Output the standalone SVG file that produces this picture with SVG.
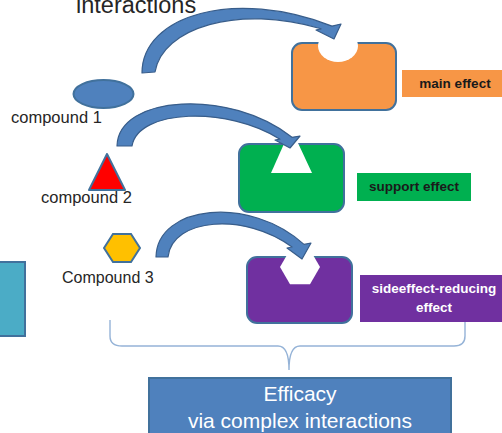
<svg xmlns="http://www.w3.org/2000/svg" width="502" height="433" viewBox="0 0 502 433">
  <style>
    .lbl { font-family: "Liberation Sans", Arial, sans-serif; fill: #262626; }
    .tag { font-family: "Liberation Sans", Arial, sans-serif; font-weight: bold; font-size: 13.5px; text-anchor: middle; }
    .shape { stroke: #41719C; stroke-width: 2; }
    .arrow { fill: #4F81BD; stroke: #385D8A; stroke-width: 1.2; stroke-linejoin: round; }
    .hole { fill: #FFFFFF; stroke: none; }
    .brace { fill: none; stroke: #95B3D7; stroke-width: 1.4; }
  </style>

  <rect width="502" height="433" fill="#FFFFFF"/>

  <!-- heading fragment -->
  <text class="lbl" x="76" y="13" font-size="23.5">interactions</text>

  <!-- compound shapes -->
  <g id="compound1">
    <ellipse class="shape" cx="103.5" cy="94" rx="30" ry="14" fill="#4F81BD"/>
    <text class="lbl" x="11" y="123" font-size="16.5">compound 1</text>
  </g>
  <g id="compound2">
    <polygon class="shape" points="107,154 89,190 125,190" fill="#FF0000" stroke-linejoin="round"/>
    <text class="lbl" x="41" y="203" font-size="16.5">compound 2</text>
  </g>
  <g id="compound3">
    <polygon class="shape" points="104,248 113,234 131,234 140,248 131,262 113,262" fill="#FFC000"/>
    <text class="lbl" x="62" y="283" font-size="16">Compound 3</text>
  </g>

  <!-- side panel at left edge -->
  <g id="sidePanel">
    <rect class="shape" x="-5" y="262" width="30" height="74" fill="#4BACC6"/>
  </g>

  <!-- target with round pocket -->
  <g id="targetMain">
    <rect class="shape" x="292" y="43" width="104" height="67" rx="10" fill="#F79646"/>
    <ellipse class="hole" cx="338" cy="46" rx="20" ry="16"/>
  </g>
  <g id="labelMain">
    <rect x="402" y="70" width="104" height="27" fill="#F79646"/>
    <text class="tag" x="455" y="88" fill="#1A1A1A">main effect</text>
  </g>

  <!-- target with triangular pocket -->
  <g id="targetSupport">
    <rect class="shape" x="239" y="144" width="105" height="68" rx="10" fill="#00B050"/>
    <polygon class="hole" points="291,128 271,173 312,173"/>
  </g>
  <g id="labelSupport">
    <rect x="357" y="173" width="114" height="28" fill="#00B050"/>
    <text class="tag" x="414" y="191" fill="#1A1A1A">support effect</text>
  </g>

  <!-- target with hexagonal pocket -->
  <g id="targetSide">
    <rect class="shape" x="247" y="257" width="105" height="66" rx="10" fill="#7030A0"/>
    <polygon class="hole" points="280,267 290,249.7 310,249.7 320,267 310,284.3 290,284.3"/>
  </g>
  <g id="labelSide">
    <rect x="360" y="275" width="146" height="47" fill="#7030A0"/>
    <text class="tag" x="434" y="293" fill="#FFFFFF">sideeffect-reducing</text>
    <text class="tag" x="434" y="312" fill="#FFFFFF">effect</text>
  </g>

  <!-- outcome box -->
  <g id="efficacy">
    <rect class="shape" x="149" y="378" width="302" height="70" fill="#4F81BD" stroke="#385D8A"/>
    <text class="lbl" x="300" y="401" font-size="21" text-anchor="middle" style="fill:#FFFFFF">Efficacy</text>
    <text class="lbl" x="300" y="428" font-size="21" text-anchor="middle" style="fill:#FFFFFF">via complex interactions</text>
  </g>

  <!-- connectors: curved block arrows and the grouping brace -->
  <g id="connectors">
    <path class="arrow" d="M142,73 C142,15 235,-12 332,26.1 L341,24 L334,39 L316,30 L321,28.8 C238,4 162,28 155,72 Z"/>
    <path class="arrow" d="M117,146 C118,95 230,88 292,137.3 L300,136 L290,148 L275,140 L280,139.2 C228,106 138,109 132,146 Z"/>
    <path class="arrow" d="M156,257 C157,205 250,195 304,244.4 L311,243 L302,259 L287,248 L292,247 C245,212 172,218 168,257 Z"/>
    <path class="brace" d="M110,320 L110,336 Q110,346 122,346 L278,346 Q289,346 289,370 Q289,346 300,346 L454,346 Q465,346 465,336 L465,322"/>
  </g>
</svg>
